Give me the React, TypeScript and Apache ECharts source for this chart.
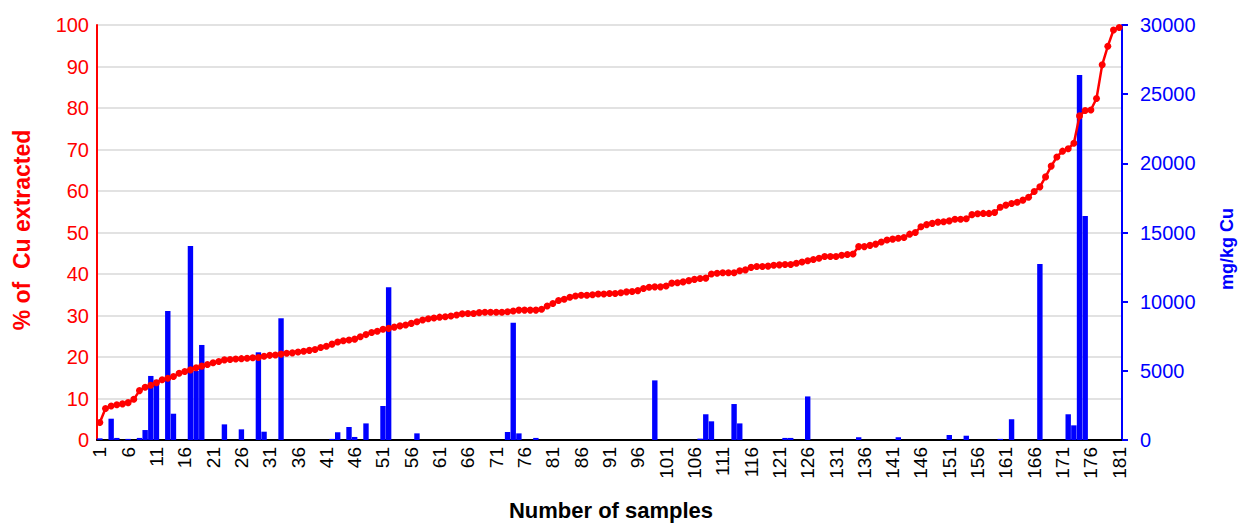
import React, { useEffect, useRef } from "react";
import * as echarts from "echarts";

// Sample numbers 1..181
const categories: string[] = Array.from({ length: 181 }, (_, i) => String(i + 1));

// % of Cu extracted (left axis), sorted ascending
const cuExtracted: number[] = [
  4.2, 7.6, 8.2, 8.5, 8.7, 9.0, 9.8, 11.9, 12.7, 13.2,
  13.8, 14.5, 14.9, 15.3, 16.1, 16.5, 16.9, 17.4, 17.8, 18.2,
  18.6, 18.9, 19.3, 19.4, 19.5, 19.6, 19.7, 19.8, 19.9, 20.2,
  20.4, 20.5, 20.7, 20.9, 21.0, 21.2, 21.4, 21.6, 21.8, 22.3,
  22.6, 23.1, 23.6, 23.9, 24.1, 24.3, 24.9, 25.4, 25.9, 26.2,
  26.7, 26.9, 27.2, 27.5, 27.7, 28.1, 28.5, 28.9, 29.2, 29.4,
  29.6, 29.7, 29.9, 30.1, 30.4, 30.5, 30.5, 30.7, 30.8, 30.8,
  30.8, 30.8, 30.9, 31.1, 31.3, 31.3, 31.3, 31.3, 31.5, 32.3,
  32.9, 33.6, 33.9, 34.4, 34.7, 34.9, 34.9, 35.0, 35.2, 35.2,
  35.3, 35.3, 35.5, 35.7, 35.8, 36.0, 36.5, 36.8, 36.9, 36.9,
  37.1, 37.8, 37.9, 38.1, 38.4, 38.7, 38.9, 39.0, 40.0, 40.2,
  40.3, 40.3, 40.3, 40.8, 41.0, 41.6, 41.8, 41.8, 41.9, 42.1,
  42.2, 42.3, 42.3, 42.6, 42.9, 43.2, 43.5, 43.8, 44.2, 44.2,
  44.2, 44.5, 44.7, 44.8, 46.6, 46.6, 46.9, 47.2, 47.7, 48.2,
  48.4, 48.6, 48.8, 49.6, 50.0, 51.4, 51.9, 52.2, 52.5, 52.6,
  52.8, 53.2, 53.2, 53.3, 54.3, 54.5, 54.6, 54.6, 54.8, 56.1,
  56.6, 57.0, 57.3, 57.8, 58.5, 59.9, 61.0, 63.4, 66.0, 68.2,
  69.6, 70.2, 71.5, 78.1, 79.4, 79.5, 82.3, 90.4, 94.9, 98.8,
  99.4,
];

// mg/kg Cu (right axis)
const cuMgKg: number[] = [
  120, 0, 1540, 150, 0, 80, 0, 150, 720, 4630,
  4350, 0, 9330, 1900, 0, 0, 14020, 5000, 6870, 0,
  0, 0, 1130, 0, 0, 770, 0, 0, 6340, 600,
  0, 0, 8800, 0, 0, 0, 0, 0, 0, 0,
  0, 80, 560, 0, 940, 220, 0, 1200, 0, 0,
  2460, 11040, 0, 0, 0, 0, 480, 0, 0, 0,
  0, 0, 0, 0, 0, 0, 0, 0, 0, 0,
  0, 0, 580, 8480, 480, 0, 0, 150, 0, 0,
  0, 0, 0, 0, 0, 0, 0, 0, 0, 0,
  0, 0, 0, 0, 0, 0, 0, 0, 4310, 0,
  0, 0, 0, 0, 0, 0, 100, 1860, 1350, 0,
  0, 0, 2600, 1200, 0, 0, 0, 0, 0, 0,
  0, 150, 150, 0, 0, 3150, 0, 0, 0, 0,
  0, 0, 0, 0, 200, 0, 0, 0, 0, 0,
  0, 200, 0, 0, 0, 0, 0, 0, 0, 0,
  360, 0, 0, 310, 0, 0, 0, 0, 0, 80,
  0, 1500, 0, 0, 0, 0, 12720, 0, 0, 0,
  0, 1860, 1060, 26390, 16190, 0, 0, 0, 0, 0,
  0,
];

const FONT = "'Liberation Sans', Arial, sans-serif";

export default function App() {
  const ref = useRef<HTMLDivElement>(null);

  useEffect(() => {
    if (!ref.current) return;
    const chart = echarts.init(ref.current, null, { renderer: "svg" });
    chart.setOption({
      animation: false,
      backgroundColor: "#ffffff",
      grid: { left: 97, right: 117, top: 25, bottom: 84, containLabel: false },
      xAxis: {
        type: "category",
        data: categories,
        boundaryGap: true,
        axisLine: { show: true, lineStyle: { color: "#000000", width: 2 } },
        axisTick: { show: false },
        axisLabel: {
          rotate: 90,
          interval: 4,
          fontSize: 19,
          color: "#000000",
          fontFamily: FONT,
          margin: 7,
        },
        splitLine: { show: false },
      },
      yAxis: [
        {
          type: "value",
          position: "left",
          min: 0,
          max: 100,
          interval: 10,
          axisLine: { show: true, onZero: false, lineStyle: { color: "#ff0000", width: 2 } },
          axisTick: { show: false },
          axisLabel: { color: "#ff0000", fontSize: 20, fontFamily: FONT, margin: 8 },
          splitLine: { show: true, lineStyle: { color: "#d9d9d9", width: 1.5 } },
        },
        {
          type: "value",
          position: "right",
          min: 0,
          max: 30000,
          interval: 5000,
          axisLine: { show: true, onZero: false, lineStyle: { color: "#0000ff", width: 2 } },
          axisTick: { show: true, length: 6, lineStyle: { color: "#0000ff", width: 2 } },
          axisLabel: {
            color: "#0000ff",
            fontSize: 20,
            fontFamily: FONT,
            margin: 18,
            formatter: (v: number) => String(v),
          },
          splitLine: { show: false },
        },
      ],
      graphic: [
        {
          type: "text",
          x: 22,
          y: 230,
          rotation: Math.PI / 2,
          style: {
            text: "% of  Cu extracted",
            fill: "#ff0000",
            font: `bold 23px ${FONT}`,
            textAlign: "center",
            textVerticalAlign: "middle",
          },
        },
        {
          type: "text",
          x: 1227,
          y: 249,
          rotation: Math.PI / 2,
          style: {
            text: "mg/kg Cu",
            fill: "#0000ff",
            font: `bold 18px ${FONT}`,
            textAlign: "center",
            textVerticalAlign: "middle",
          },
        },
        {
          type: "text",
          x: 611,
          y: 510,
          style: {
            text: "Number of samples",
            fill: "#000000",
            font: `bold 22px ${FONT}`,
            textAlign: "center",
            textVerticalAlign: "middle",
          },
        },
      ],
      series: [
        {
          name: "mg/kg Cu",
          type: "bar",
          yAxisIndex: 1,
          data: cuMgKg,
          barWidth: 5.4,
          itemStyle: { color: "#0000ff" },
        },
        {
          name: "% of Cu extracted",
          type: "line",
          yAxisIndex: 0,
          data: cuExtracted,
          symbol: "circle",
          symbolSize: 7,
          showSymbol: true,
          showAllSymbol: true,
          lineStyle: { color: "#ff0000", width: 2.5 },
          itemStyle: { color: "#ff0000" },
          z: 3,
        },
      ],
    });
    return () => chart.dispose();
  }, []);

  return (
    <div
      ref={ref}
      style={{ position: "fixed", left: 0, top: 0, width: 1239, height: 524, background: "#fff" }}
    />
  );
}
